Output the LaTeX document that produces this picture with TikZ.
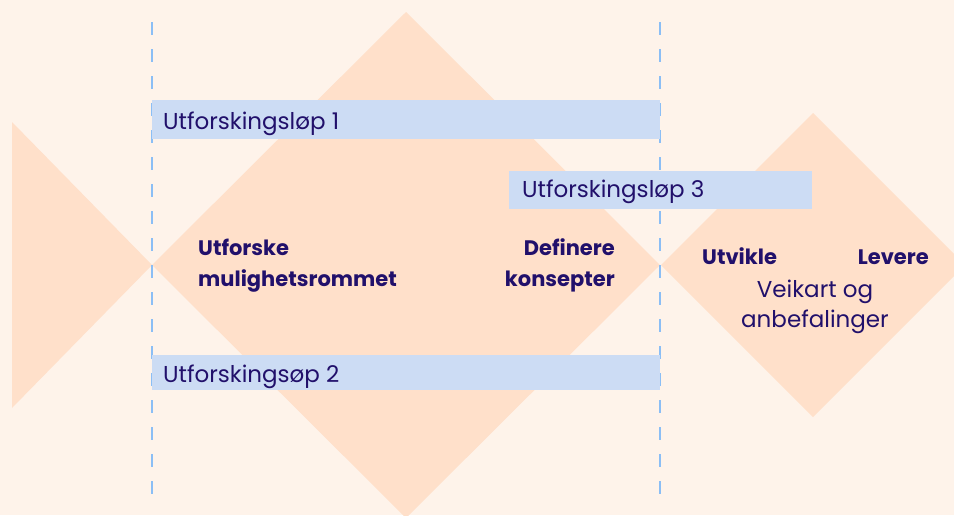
\documentclass[tikz,border=0pt]{standalone}
\usepackage{fontspec}
\setmainfont{Poppins}
\definecolor{pagebg}{HTML}{FEF3EA}
\definecolor{phase}{HTML}{FFE0CA}
\definecolor{barfill}{HTML}{CCDCF4}
\definecolor{guide}{HTML}{8BBEF5}
\definecolor{ink}{HTML}{21106B}
\tikzset{
  runbar/.style={fill=barfill, draw=none, inner sep=0pt},
  runlabel/.style={anchor=base west, inner sep=0pt, text=ink, font=\fontsize{23}{27}\selectfont},
  phaselabel/.style={inner sep=0pt, text=ink, font=\fontsize{21}{31}\selectfont\bfseries},
  notelabel/.style={inner sep=0pt, text=ink, align=center, font=\fontsize{23}{30}\selectfont},
  guideline/.style={draw=guide, line width=2pt, dash pattern=on 13pt off 14pt},
}
\begin{document}
\begin{tikzpicture}[x=1pt,y=-1pt]
\useasboundingbox (0,0) rectangle (954,515);
\fill[pagebg] (0,0) rectangle (954,515);

% phase shapes: closing triangle, the big diamond and the small diamond
\begin{scope}
\clip (0,0) rectangle (954,515);
\fill[phase] (12,122) -- (152,265) -- (12,408) -- cycle;
\fill[phase] (406,12) -- (660,265) -- (406,518) -- (152,265) -- cycle;
\fill[phase] (813,113) -- (965,265) -- (813,417) -- (661,265) -- cycle;
\end{scope}

% dashed phase boundaries
\coordinate (g1top) at (152,22);
\coordinate (g1bot) at (152,498);
\coordinate (g2top) at (660,22);
\coordinate (g2bot) at (660,498);
\draw[guideline] (g1top) -- (g1bot);
\draw[guideline] (g2top) -- (g2bot);

% exploration runs
\path[runbar] (152,100) rectangle (660,139);
\node[runlabel] (run1) at (163,129) {Utforskingsløp 1};
\path[runbar] (509,171) rectangle (812,209);
\node[runlabel] (run3) at (522,197) {Utforskingsløp 3};
\path[runbar] (152,355) rectangle (660,390);
\node[runlabel] (run2) at (163,382) {Utforskingsøp 2};

% phase names (base anchor sits on the last line)
\node[phaselabel, anchor=base west, align=left] (explore) at (198,286)
  {Utforske\\mulighetsrommet};
\node[phaselabel, anchor=base east, align=right] (define) at (615,286)
  {Definere\\konsepter};
\node[phaselabel, anchor=base west] (develop) at (702,264) {Utvikle};
\node[phaselabel, anchor=base east] (deliver) at (929,264) {Levere};
\node[notelabel, anchor=base] (roadmap) at (815,327)
  {Veikart og\\anbefalinger};
\end{tikzpicture}
\end{document}
